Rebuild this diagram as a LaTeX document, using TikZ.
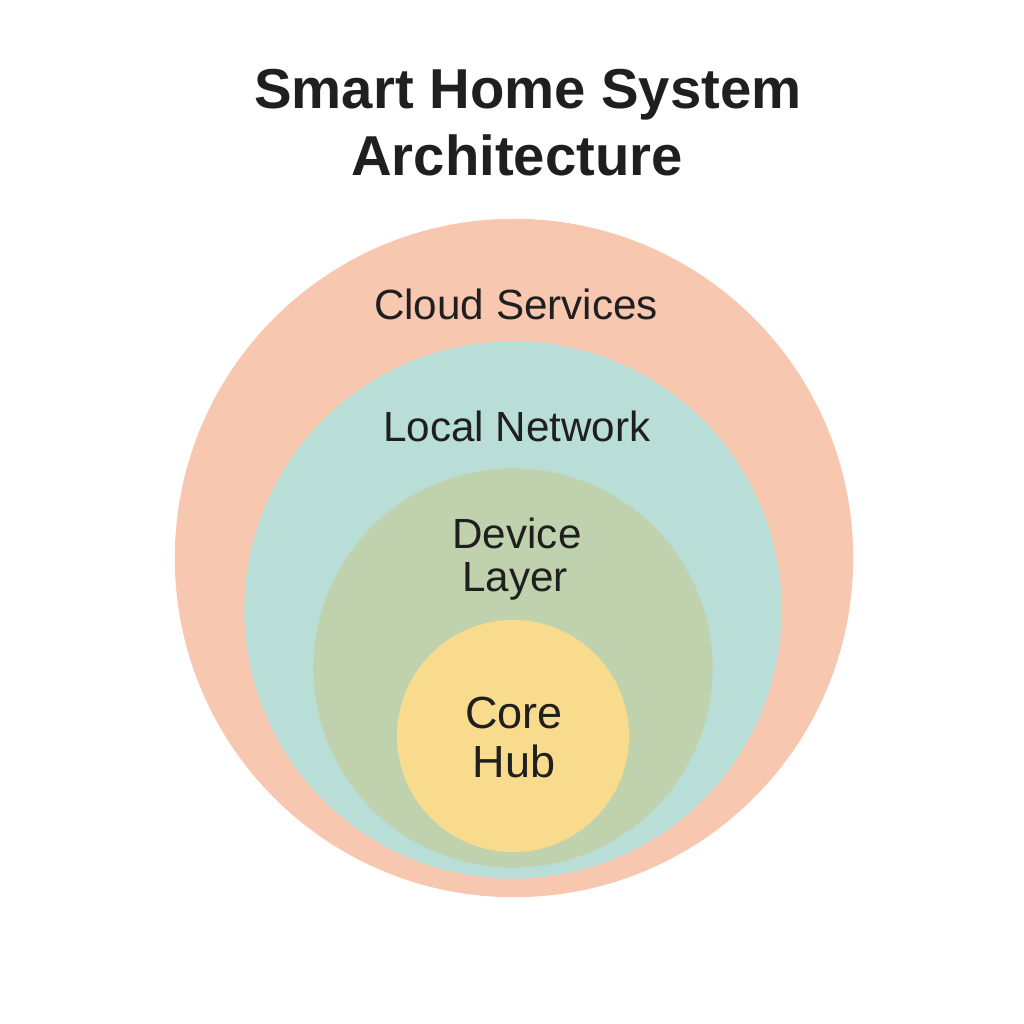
\documentclass[tikz,border=0pt]{standalone}
\usepackage{fontspec}
\setmainfont{Liberation Sans}
\definecolor{cloudFill}{HTML}{F8C7AF}
\definecolor{netFill}{HTML}{B9DDD7}
\definecolor{devFill}{HTML}{BFD2AD}
\definecolor{hubFill}{HTML}{F9DB8D}
\definecolor{inkDark}{HTML}{1F1F1F}
\usetikzlibrary{positioning}

\begin{document}
\begin{tikzpicture}[x=0.01cm, y=-0.01cm,
                    ring/.style={circle, draw=none, inner sep=0pt},
                    lbl/.style={anchor=base, align=center, text=inkDark,
                                font=\fontsize{12}{14.5}\selectfont},
                    ttl/.style={anchor=base, text=inkDark,
                                font=\fontsize{16}{19}\selectfont\bfseries}
                ]
                    \useasboundingbox[fill=white] (0,0) rectangle (1024,1024);
                    % title
                    \node[ttl] (t1) at (528,108) {Smart Home System};
                    \node[ttl] (t2) at (517,175) {Architecture};
                    % nested layers
                    \node[ring, fill=cloudFill, minimum size=6.78cm] (cloud) at (514,558) {};
                    \node[ring, fill=netFill, minimum size=5.37cm] (net) at (513,610) {};
                    \node[ring, fill=devFill, minimum size=3.99cm] (dev) at (513,668) {};
                    \node[ring, fill=hubFill, minimum size=2.32cm] (hub) at (513,736) {};
                    % labels
                    \node[lbl] (lcloud) at (516,319) {Cloud Services};
                    \node[lbl] (lnet) at (517,441) {Local Network};
                    \node[lbl] (ldev1) at (517,548) {Device};
                    \node[lbl] (ldev2) at (515,591) {Layer};
                    \node[lbl, font=\fontsize{12.8}{15}\selectfont] (lhub1) at (514,728) {Core};
                    \node[lbl, font=\fontsize{12.8}{15}\selectfont] (lhub2) at (514,777) {Hub};
                \end{tikzpicture}
\end{document}
